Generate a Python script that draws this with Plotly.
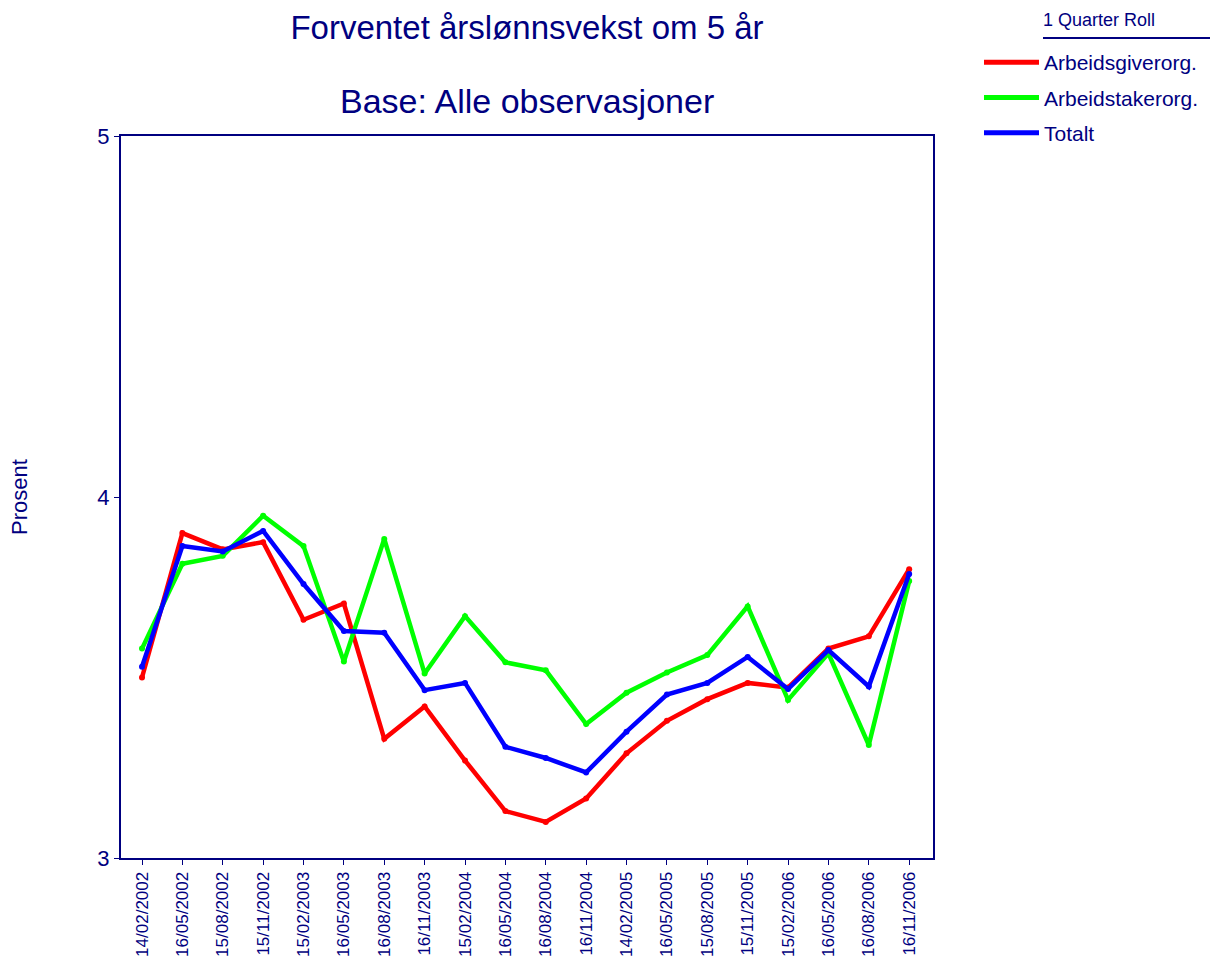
import plotly.graph_objects as go

dates = ["14/02/2002", "16/05/2002", "15/08/2002", "15/11/2002", "15/02/2003",
         "16/05/2003", "16/08/2003", "16/11/2003", "15/02/2004", "16/05/2004",
         "16/08/2004", "16/11/2004", "14/02/2005", "16/05/2005", "15/08/2005",
         "15/11/2005", "15/02/2006", "16/05/2006", "16/08/2006", "16/11/2006"]

arbeidsgiver = [3.50, 3.90, 3.855, 3.875, 3.66, 3.705, 3.33, 3.42, 3.27, 3.13,
                3.10, 3.165, 3.29, 3.38, 3.44, 3.485, 3.472, 3.58, 3.614, 3.80]
arbeidstaker = [3.58, 3.815, 3.837, 3.948, 3.864, 3.544, 3.884, 3.511, 3.67, 3.542,
                3.52, 3.371, 3.458, 3.514, 3.562, 3.697, 3.438, 3.567, 3.313, 3.767]
totalt = [3.53, 3.864, 3.849, 3.906, 3.759, 3.629, 3.624, 3.465, 3.485, 3.308,
          3.277, 3.237, 3.35, 3.453, 3.485, 3.557, 3.468, 3.576, 3.475, 3.787]

series = [("Arbeidsgiverorg.", arbeidsgiver, "#ff0000"),
          ("Arbeidstakerorg.", arbeidstaker, "#00ff00"),
          ("Totalt", totalt, "#0000ff")]

navy = "#000080"
font = "Liberation Sans, Arial, sans-serif"

# the page body adds a small offset, so the figure is a bit smaller
W, H = 1211, 954
L, R, T, B = 113, 286, 128, 104
pw, ph = W - L - R, H - T - B


def px(x):
    return (x - 7 - L) / pw


def py(y):
    return (H - B - (y - 8)) / ph


fig = go.Figure()
for name, vals, col in series:
    fig.add_trace(go.Scatter(x=dates, y=vals, name=name, mode="lines+markers",
                             line=dict(color=col, width=4.5),
                             marker=dict(color=col, size=6),
                             showlegend=False))
# legend entries (line only, no markers)
for name, vals, col in series:
    fig.add_trace(go.Scatter(x=[None], y=[None], name=name, mode="lines",
                             line=dict(color=col, width=5), legendgroup=name))

fig.update_layout(
    width=W, height=H,
    paper_bgcolor="white", plot_bgcolor="white",
    font=dict(family=font, color=navy),
    margin=dict(l=L, r=R, t=T, b=B),
    title=dict(text="Forventet årslønnsvekst om 5 år", x=(526 - 7) / W, xanchor="center",
               y=1 - 19 / H, yanchor="middle", font=dict(size=33, color=navy)),
    showlegend=True,
    legend=dict(x=px(978), xanchor="left", y=py(42), yanchor="top",
                bgcolor="rgba(0,0,0,0)",
                font=dict(size=21, color=navy), itemwidth=55, tracegroupgap=5),
)

fig.add_annotation(text="Base: Alle observasjoner", xref="paper", yref="paper",
                   x=0.5, y=py(101), xanchor="center", yanchor="middle",
                   showarrow=False, font=dict(size=34, color=navy))
fig.add_annotation(text="1 Quarter Roll", xref="paper", yref="paper",
                   x=px(1040), y=py(20), xanchor="left",
                   yanchor="middle", showarrow=False, font=dict(size=18, color=navy))
fig.add_annotation(text="Prosent", xref="paper", yref="paper",
                   x=px(18), y=0.5, xanchor="center", yanchor="middle",
                   textangle=-90, showarrow=False, font=dict(size=22, color=navy))
fig.add_shape(type="line", xref="paper", yref="paper",
              x0=px(1042), x1=px(1218), y0=py(38), y1=py(38),
              line=dict(color=navy, width=2))

fig.update_xaxes(type="category", range=[-0.52, 19.59], showline=True, mirror=True,
                 linecolor=navy, linewidth=2, ticks="outside", ticklen=5,
                 tickcolor=navy, tickangle=-90, tickfont=dict(size=17, color=navy),
                 showgrid=False, automargin=False)
fig.update_yaxes(range=[3, 5], tickvals=[3, 4, 5], showline=True, mirror=True,
                 linecolor=navy, linewidth=2, ticks="outside", ticklen=5,
                 tickcolor=navy, tickfont=dict(size=22, color=navy),
                 showgrid=False, zeroline=False, automargin=False)

fig.write_html("out.html")
